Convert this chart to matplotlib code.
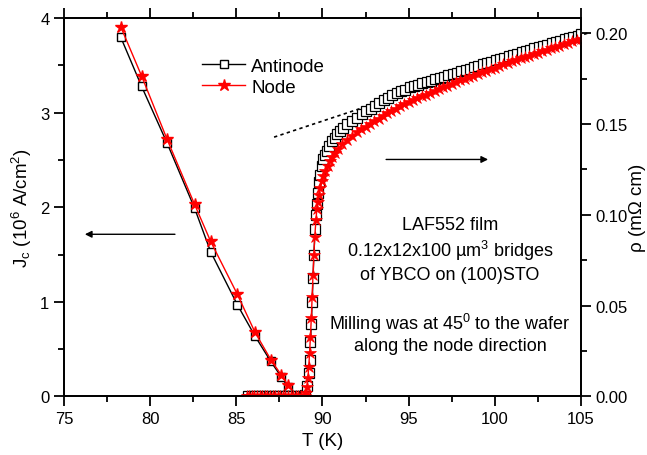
import matplotlib
matplotlib.use("Agg")
import matplotlib.pyplot as plt
from matplotlib.ticker import MultipleLocator

plt.rcParams['font.family'] = ['Liberation Sans', 'DejaVu Sans']
plt.rcParams['mathtext.fontset'] = 'custom'
plt.rcParams['mathtext.rm'] = 'Liberation Sans'
plt.rcParams['mathtext.it'] = 'Liberation Sans:italic'

# critical current density (left axis)
T_jc = [78.29, 79.5, 80.98, 82.58, 83.51, 85.06, 86.08, 87.0, 87.6, 88.0]
jc_antinode = [3.80, 3.28, 2.68, 1.99, 1.53, 0.97, 0.64, 0.37, 0.21, 0.10]
jc_node = [3.91, 3.39, 2.72, 2.03, 1.64, 1.08, 0.68, 0.39, 0.23, 0.12]

# resistivity (right axis), antinode bridge
T_rho_a = [85.7, 85.9, 86.1, 86.3, 86.5, 86.7, 86.9, 87.1, 87.3, 87.5, 87.7, 87.9,
           88.1, 88.3, 88.5, 88.7, 88.9,
           89.0, 89.1, 89.2, 89.25, 89.3, 89.35, 89.4, 89.45, 89.5, 89.57, 89.62,
           89.67, 89.72, 89.8, 89.86, 89.96, 90.05, 90.15, 90.25, 90.4, 90.54, 90.7,
           90.83, 91.0, 91.21, 91.45, 91.7, 92.0, 92.28, 92.55, 92.8, 93.05, 93.3,
           93.55, 93.8, 94.05, 94.3, 94.55, 94.8, 95.05, 95.3, 95.55, 95.8, 96.05,
           96.3, 96.55, 96.8, 97.05, 97.3, 97.55, 97.8, 98.05, 98.3, 98.55, 98.8,
           99.05, 99.3, 99.55, 99.8, 100.05, 100.3, 100.55, 100.8, 101.05, 101.3,
           101.55, 101.8, 102.05, 102.3, 102.55, 102.8, 103.05, 103.3, 103.55, 103.8,
           104.05, 104.3, 104.55, 104.8, 105.0]
rho_a = [0, 0, 0, 0, 0, 0, 0, 0, 0, 0, 0, 0,
         0, 0, 0, 0, 0,
         0.001, 0.006, 0.013, 0.020, 0.030, 0.040, 0.052, 0.065, 0.078, 0.092, 0.100,
         0.106, 0.112, 0.118, 0.122, 0.127, 0.1305, 0.133, 0.135, 0.138, 0.1406, 0.1425,
         0.1443, 0.146, 0.148, 0.150, 0.1516, 0.1535, 0.1553, 0.157, 0.1585, 0.160, 0.1615,
         0.163, 0.1645, 0.1658, 0.167, 0.168, 0.169, 0.1702, 0.1709, 0.1716, 0.1724, 0.1731,
         0.1738, 0.1746, 0.1753, 0.1760, 0.1768, 0.1775, 0.1783, 0.1790, 0.1798, 0.1805, 0.1813,
         0.1820, 0.1828, 0.1835, 0.1843, 0.1850, 0.1857, 0.1865, 0.1872, 0.1879, 0.1887,
         0.1894, 0.1901, 0.1908, 0.1916, 0.1923, 0.1930, 0.1937, 0.1945, 0.1952, 0.1959,
         0.1966, 0.1973, 0.1980, 0.1987, 0.1993]

# resistivity, node bridge
T_rho_n = [85.6, 85.75, 85.9, 86.05, 86.2, 86.35, 86.5, 86.65, 86.8, 86.95, 87.1, 87.25,
           87.4, 87.55, 87.7, 87.85, 88.0, 88.15, 88.3, 88.45, 88.6, 88.75, 88.9, 89.0,
           89.05, 89.1, 89.15, 89.2, 89.25, 89.3, 89.35, 89.4, 89.45, 89.5, 89.55, 89.62,
           89.67, 89.73, 89.8, 89.88, 89.96, 90.05, 90.15, 90.3, 90.44, 90.58, 90.73, 90.9,
           91.12, 91.4, 91.7, 92.0, 92.25, 92.5, 92.75, 93.0, 93.25, 93.5, 93.75, 94.0,
           94.25, 94.5, 94.75, 95.0, 95.25, 95.5, 95.75, 96.0, 96.25, 96.5, 96.75, 97.0,
           97.25, 97.5, 97.75, 98.0, 98.25, 98.5, 98.75, 99.0, 99.25, 99.5, 99.75, 100.0,
           100.25, 100.5, 100.75, 101.0, 101.25, 101.5, 101.75, 102.0, 102.25, 102.5,
           102.75, 103.0, 103.25, 103.5, 103.75, 104.0, 104.25, 104.5, 104.75, 105.0]
rho_n = [0, 0, 0, 0, 0, 0, 0, 0, 0, 0, 0, 0,
         0, 0, 0, 0, 0, 0, 0, 0, 0, 0, 0, 0,
         0.002, 0.005, 0.010, 0.016, 0.024, 0.033, 0.043, 0.055, 0.067, 0.078, 0.088, 0.097,
         0.103, 0.107, 0.111, 0.115, 0.1186, 0.1215, 0.124, 0.127, 0.1296, 0.132, 0.134, 0.136,
         0.1388, 0.141, 0.1433, 0.1455, 0.1472, 0.1485, 0.150, 0.1515, 0.153, 0.1545, 0.156, 0.1573,
         0.1585, 0.1597, 0.1608, 0.162, 0.1631, 0.1642, 0.1652, 0.1662, 0.1672, 0.1682, 0.1692, 0.1702,
         0.1711, 0.1721, 0.1730, 0.1740, 0.1749, 0.1758, 0.1767, 0.1776, 0.1785, 0.1794, 0.1802, 0.1811,
         0.1819, 0.1828, 0.1836, 0.1845, 0.1853, 0.1861, 0.1869, 0.1877, 0.1885, 0.1893,
         0.1901, 0.1909, 0.1917, 0.1924, 0.1932, 0.1940, 0.1947, 0.1955, 0.1962, 0.1968]

# normal-state linear fit (dotted)
fit_T = [87.19, 105.5]
fit_rho = [0.1428, 0.2004]

fig = plt.figure(figsize=(6.47, 4.56), dpi=100)
ax = fig.add_axes([0.0989, 0.1283, 0.7991, 0.8297])
ax2 = ax.twinx()

A, = ax.plot(T_jc, jc_antinode, color='black', lw=1, marker='s', ms=6,
             mfc='white', mec='black', mew=1, label='Antinode')
B, = ax.plot(T_jc, jc_node, color='red', lw=1, marker='*', ms=9,
             mfc='red', mec='red', label='Node')

ax2.plot(fit_T, fit_rho, color='black', lw=1.2, ls=(0, (2, 2)), clip_on=False)
ax2.plot(T_rho_a, rho_a, color='black', lw=1, marker='s', ms=6.5,
         mfc='white', mec='black', mew=0.9)
ax2.plot(T_rho_n, rho_n, color='red', lw=1, marker='*', ms=9,
         mfc='red', mec='red', mew=0.5)

ax.set_xlim(75, 105)
ax.set_ylim(0, 4)
ax2.set_ylim(0, 0.2083)

ax.xaxis.set_major_locator(MultipleLocator(5))
ax.xaxis.set_minor_locator(MultipleLocator(2.5))
ax.yaxis.set_major_locator(MultipleLocator(1))
ax.yaxis.set_minor_locator(MultipleLocator(0.5))
ax2.yaxis.set_major_locator(MultipleLocator(0.05))
ax2.yaxis.set_minor_locator(MultipleLocator(0.025))
ax2.yaxis.set_major_formatter(plt.FormatStrFormatter('%.2f'))

ax.tick_params(which='both', direction='out', top=True, labelsize=12, width=1.3)
ax.tick_params(which='major', length=7)
ax.tick_params(which='minor', length=4)
ax2.tick_params(which='both', direction='out', labelsize=12, width=1.3)
ax2.tick_params(which='major', length=7)
ax2.tick_params(which='minor', length=4)
for sp in list(ax.spines.values()) + list(ax2.spines.values()):
    sp.set_linewidth(1.3)

ax.set_xlabel('T (K)', fontsize=13.5)
ax.set_ylabel(r'J$_\mathrm{c}$ (10$^6$ A/cm$^2$)', fontsize=13.5)
ax2.set_ylabel('ρ (mΩ cm)', fontsize=13.5, labelpad=1)

ax.legend(handles=[A, B], frameon=False, loc='upper left',
          bbox_to_anchor=(0.235, 0.94), fontsize=13.5, handlelength=2.3,
          handletextpad=0.3, labelspacing=0.2)

ax.annotate('', xy=(76.05, 1.715), xytext=(81.6, 1.715),
            arrowprops=dict(arrowstyle='-|>', color='black', lw=1))
ax2.annotate('', xy=(99.77, 0.1305), xytext=(93.53, 0.1305),
             arrowprops=dict(arrowstyle='-|>', color='black', lw=1))

lines = [('LAF552 film', 226), ('0.12x12x100 µm$^3$ bridges', 251),
         ('of YBCO on (100)STO', 275), (r'Milling was at 45$^0$ to the wafer', 324),
         ('along the node direction', 347)]
for txt, py in lines:
    fig.text(450 / 647, 1 - py / 456, txt, ha='center', va='center', fontsize=13)

fig.savefig('out.png', dpi=100)
